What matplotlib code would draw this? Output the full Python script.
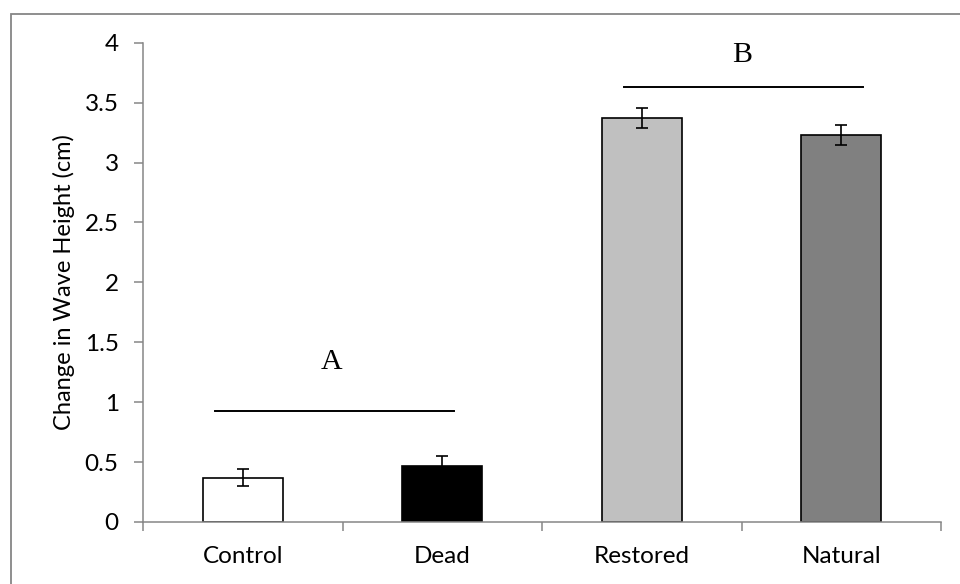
import numpy as np
import matplotlib
matplotlib.use('Agg')
import matplotlib.pyplot as plt
from matplotlib.patches import Rectangle

# wave attenuation by treatment
groups = ['Control', 'Dead', 'Restored', 'Natural']
wave_change = [0.37, 0.47, 3.37, 3.23]
wave_err = [0.073, 0.078, 0.083, 0.083]
bar_colors = ['white', 'black', '#c0c0c0', '#808080']

# significance groupings: letter, x-span, line height, letter position
sig_letters = ['A', 'B']
sig_spans = [(-0.14, 1.06), (1.91, 3.11)]
sig_line_y = [0.925, 3.632]
sig_text_x = [0.446, 2.503]
sig_text_y = [1.273, 3.838]

plt.rcParams['font.family'] = ['Lato', 'DejaVu Sans']

fig = plt.figure(figsize=(9.6, 5.84), dpi=100)
ax = fig.add_axes([0.149, 0.1062, 0.8312, 0.8207])

x = np.arange(len(groups))
ax.bar(x, wave_change, width=0.4, color=bar_colors, edgecolor='black', linewidth=1.2, zorder=2)
ax.errorbar(x, wave_change, yerr=wave_err, fmt='none', ecolor='black',
            elinewidth=1.2, capsize=4, capthick=1.2, zorder=3)

for letter, (x0, x1), ly, tx, ty in zip(sig_letters, sig_spans, sig_line_y, sig_text_x, sig_text_y):
    ax.plot([x0, x1], [ly, ly], color='black', linewidth=1.4)
    ax.text(tx, ty, letter, ha='center', va='baseline',
            family='Liberation Serif', fontsize=21.5)

ax.set_xlim(-0.5, 3.5)
ax.set_ylim(0, 4)
ax.set_yticks(np.arange(0, 4.01, 0.5))
ax.set_yticklabels(['0', '0.5', '1', '1.5', '2', '2.5', '3', '3.5', '4'])
ax.set_xticks(x)
ax.set_xticklabels(groups)
ax.xaxis.set_minor_locator(plt.FixedLocator(np.arange(-0.5, 3.6, 1)))
ax.tick_params(axis='x', which='major', length=0, pad=17, labelsize=17.5)
ax.tick_params(axis='x', which='minor', length=6.5, width=1.1, color='#868686', direction='out')
ax.tick_params(axis='y', length=6.5, width=1.1, color='#868686', direction='out', labelsize=17.5, pad=11)

for side in ['top', 'right']:
    ax.spines[side].set_visible(False)
for side in ['left', 'bottom']:
    ax.spines[side].set_color('#868686')
    ax.spines[side].set_linewidth(1.1)

ax.set_ylabel('Change in Wave Height (cm)', fontsize=17, labelpad=7)

# chart area border
fig.patches.append(Rectangle((11 / 960, -0.1), 1.2, 1 - 14 / 584 + 0.1,
                             transform=fig.transFigure, fill=False,
                             edgecolor='#868686', linewidth=1.3))

fig.savefig('out.png', dpi=100, facecolor='white')
